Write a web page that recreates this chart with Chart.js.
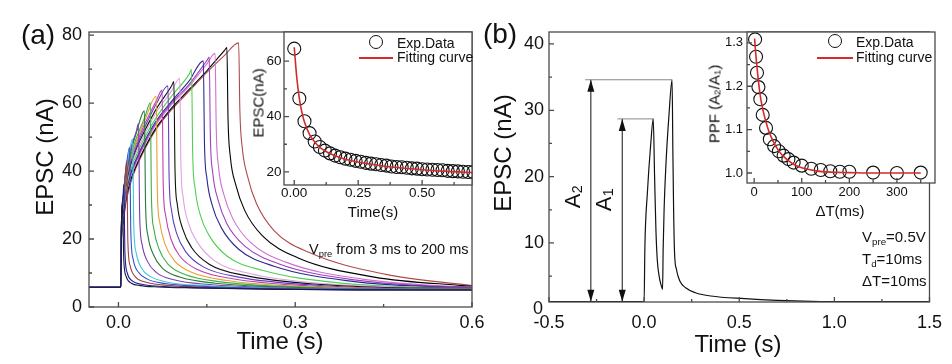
<!DOCTYPE html>
<html>
<head>
<meta charset="utf-8">
<script src="https://cdn.jsdelivr.net/npm/chart.js@4.4.0/dist/chart.umd.min.js"></script>
<style>
  body { margin: 0; background: #fff; }
  #wrap { position: relative; width: 952px; height: 364px; overflow: hidden;
          font-family: "Liberation Sans", Arial, sans-serif; color: #111; }
  #wrap canvas { position: absolute; left: 0; top: 0; }
  .t { position: absolute; white-space: nowrap; line-height: 1; }
  .c { transform: translate(-50%, -50%); }
  .l { transform: translateY(-50%); }
  .r { writing-mode: vertical-rl; transform: translate(-50%, -50%) rotate(180deg); }
  .s { font-size: 0.65em; position: relative; top: 0.3em; }
  .r .s { top: 0; left: -0.3em; }
  .dot { position: absolute; width: 12px; height: 12px; border: 1.2px solid #111; border-radius: 50%;
         transform: translate(-50%, -50%); }
  .red { position: absolute; height: 1.6px; background: #d42a2a; }
</style>
</head>
<body>
<div id="wrap">
  <canvas id="mainA" width="952" height="364"></canvas>
  <canvas id="mainB" width="952" height="364"></canvas>
  <canvas id="insetA" width="952" height="364"></canvas>
  <canvas id="insetB" width="952" height="364"></canvas>

  <div class="t c" style="left:38px;top:35px;font-size:28px">(a)</div>
  <div class="t c" style="left:500px;top:34px;font-size:28px">(b)</div>

  <div class="t r" style="left:45px;top:157px;font-size:24px">EPSC (nA)</div>
  <div class="t c" style="left:280px;top:341px;font-size:24px">Time (s)</div>
  <div class="t r" style="left:503px;top:153px;font-size:24px">EPSC (nA)</div>
  <div class="t c" style="left:738px;top:344px;font-size:24px">Time (s)</div>
  <div class="t l" style="left:533px;top:308px;font-size:18px">0</div>

  <div class="t r" style="left:258px;top:103px;font-size:15px">EPSC(nA)</div>
  <div class="t c" style="left:373px;top:211px;font-size:15px">Time(s)</div>
  <div class="t r" style="left:714px;top:104px;font-size:15px">PPF (A<span class="s">2</span>/A<span class="s">1</span>)</div>
  <div class="t c" style="left:840px;top:210px;font-size:15px">&Delta;T(ms)</div>

  <div class="dot" style="left:376px;top:42px"></div>
  <div class="red" style="left:359px;top:57px;width:34px"></div>
  <div class="t l" style="left:397px;top:43px;font-size:14px">Exp.Data</div>
  <div class="t l" style="left:397px;top:57px;font-size:14px">Fitting curve</div>

  <div class="dot" style="left:835px;top:41px"></div>
  <div class="red" style="left:817px;top:57px;width:36px"></div>
  <div class="t l" style="left:856px;top:42px;font-size:14px">Exp.Data</div>
  <div class="t l" style="left:856px;top:57px;font-size:14px">Fitting curve</div>

  <div class="t l" style="left:309px;top:249px;font-size:14.5px">V<span class="s">pre</span> from 3 ms to 200 ms</div>
  <div class="t l" style="left:862px;top:236px;font-size:15px">V<span class="s">pre</span>=0.5V</div>
  <div class="t l" style="left:862px;top:258px;font-size:15px">T<span class="s">d</span>=10ms</div>
  <div class="t l" style="left:862px;top:280px;font-size:15px">&Delta;T=10ms</div>

  <div class="t r" style="left:573px;top:197px;font-size:22px">A<span class="s">2</span></div>
  <div class="t r" style="left:604px;top:200px;font-size:22px">A<span class="s">1</span></div>
</div>
<script>
const FONT = '"Liberation Sans", Arial, sans-serif';
const AXIS = '#4a4a4a';

// (a) EPSC traces, one per pulse width
const pulseMs   = [3, 5, 10, 15, 20, 30, 40, 50, 60, 70, 80, 90, 100, 120, 140, 150, 160, 180, 200];
const curveColor = ['#1a1a40', '#20209a', '#a0403a', '#3050d0', '#40c8d8', '#7b3fb0', '#2a7a3a',
                    '#3cb04a', '#e8a030', '#c040b0', '#6040c0', '#101010', '#e0a0e0', '#50d050',
                    '#2a2a90', '#a040c0', '#d070d0', '#000000', '#b04a4a'];
const baseA     = 5.8;
const peakTime  = [0.007, 0.009, 0.014, 0.019, 0.024, 0.034, 0.044, 0.054, 0.064, 0.074, 0.084,
                   0.094, 0.104, 0.124, 0.144, 0.154, 0.164, 0.184, 0.204];
const peakEPSC  = [30, 36, 43, 47, 49.5, 54, 57.7, 60.1, 62, 63.8, 65.1, 66.3, 67.3, 69.9, 72.4,
                   73.5, 74.6, 76.3, 77.7];
// rise values at these times (only the ones before each peak)
const riseTime  = [0.005, 0.008, 0.012, 0.02, 0.03, 0.045, 0.065, 0.09, 0.12, 0.15, 0.18];
const riseEPSC  = [
  [24],
  [24, 33],
  [23.5, 32.5, 40],
  [23.5, 32, 39.5],
  [23, 31.5, 39, 47],
  [23, 31, 38, 46, 51.5],
  [22.5, 30.5, 37.5, 45, 51],
  [22.5, 30, 37, 44, 49.5, 56],
  [22, 29.5, 36.5, 43.5, 48.5, 55],
  [22, 29, 36, 43, 48, 54, 61],
  [21.5, 28.5, 35.5, 42, 47, 53, 60],
  [21.5, 28, 35, 41.5, 46.5, 52, 58.5, 65],
  [21, 27.5, 34.5, 41, 45.5, 51, 57.5, 63.5],
  [21, 27, 33.5, 40, 44.5, 50, 56, 62, 68.5],
  [20.5, 26.5, 33, 39, 43.5, 49, 55, 60.5, 66.5],
  [20.5, 26, 32.5, 38.5, 43, 48.5, 54.5, 60, 65.5, 72.5],
  [20, 25.5, 32, 38, 42.5, 48, 54, 59.5, 65, 71.5],
  [20, 25, 31, 37, 41.5, 47, 53, 58.5, 64, 69.5, 75.5],
  [19.5, 24.5, 30, 36, 41, 46.5, 52.5, 58, 63.5, 69, 74]
];
// decay values at these delays after each peak
const decayAfter = [0.002, 0.006, 0.015, 0.03, 0.06, 0.12, 0.25, 0.4];
const decayEPSC  = [
  [14, 9, 7.0, 6.3, 5.9, 5.6, 5.2, 5.0],
  [16, 10, 7.6, 6.7, 6.1, 5.7, 5.25, 5.05],
  [19, 12, 8.8, 7.4, 6.5, 5.9, 5.3, 5.1],
  [22, 14, 10.2, 8.2, 6.9, 6.1, 5.4, 5.15],
  [24, 16, 11.5, 9.0, 7.3, 6.3, 5.5, 5.2],
  [27, 18.5, 13.5, 10.2, 8.0, 6.6, 5.6, 5.25],
  [30, 21, 15.5, 11.5, 8.8, 7.0, 5.8, 5.3],
  [32, 23, 17, 12.6, 9.5, 7.4, 5.9, 5.35],
  [34, 25, 18.5, 13.8, 10.2, 7.8, 6.0, 5.4],
  [36, 27, 20, 15, 11, 8.3, 6.2, 5.45],
  [38, 28.5, 21.5, 16.3, 11.8, 8.8, 6.4, 5.5],
  [40, 30, 23, 17.5, 12.6, 9.3, 6.6, 5.6],
  [42, 32, 24.5, 19, 13.5, 9.8, 6.8, 5.7],
  [45, 35, 27, 21, 15, 10.8, 7.1, 5.8],
  [48, 38, 30, 23.5, 17, 12, 7.6, 5.9],
  [50, 39.5, 31.5, 24.5, 18, 12.6, 7.9, 6.0],
  [52, 41, 33, 26, 19, 13.2, 8.2, 6.1],
  [55, 44, 36, 28.5, 21, 14.5, 8.8, 6.3],
  [58, 47, 38.5, 30.5, 22.5, 16, 9.6, 6.4]
];
const endEPSC = [5.0, 5.0, 5.05, 5.1, 5.15, 5.2, 5.25, 5.3, 5.35, 5.4, 5.5, 5.55, 5.6, 5.7, 5.8,
                 5.9, 6.0, 6.1, 6.3];   // value at 0.6 s

// (a) inset: peak decay
const insetTime = [0, 0.02, 0.04, 0.06, 0.08, 0.10, 0.12, 0.14, 0.16, 0.18, 0.20, 0.22, 0.24, 0.26,
                   0.28, 0.30, 0.32, 0.34, 0.36, 0.38, 0.40, 0.42, 0.44, 0.46, 0.48, 0.50, 0.52,
                   0.54, 0.56, 0.58, 0.60, 0.62, 0.64, 0.66, 0.68, 0.70];
const insetEPSC = [64.5, 46.5, 38.3, 34.0, 31.0, 29.0, 27.7, 26.7, 25.9, 25.3, 24.8, 24.4, 24.0,
                   23.7, 23.3, 23.0, 22.8, 22.5, 22.3, 22.0, 21.8, 21.7, 21.5, 21.3, 21.2, 21.0,
                   20.9, 20.8, 20.7, 20.6, 20.4, 20.3, 20.2, 20.1, 20.0, 20.0];
const fitTimeA  = [0, 0.01, 0.02, 0.03, 0.04, 0.06, 0.08, 0.1, 0.15, 0.2, 0.3, 0.4, 0.5, 0.6, 0.7];
const fitEPSCA  = [65, 54, 46.5, 41.5, 38, 33.5, 30.8, 28.9, 26.2, 24.6, 22.8, 21.6, 20.8, 20.2, 19.8];

// (b) paired-pulse trace
const traceT    = [-0.5, 0, 0.004, 0.017, 0.035, 0.048, 0.055, 0.062, 0.069, 0.08, 0.09, 0.097,
                   0.1, 0.105, 0.115, 0.13, 0.147, 0.151, 0.155, 0.16, 0.17, 0.187, 0.22, 0.27,
                   0.35, 0.53, 0.7, 0.88, 1.1, 1.5];
const traceEPSC = [1.15, 1.15, 9.4, 17.5, 25, 28.7, 20, 12, 7.5, 4.8, 3.6, 3.0, 9, 15, 22, 29,
                   34.6, 24, 15, 8.5, 6, 4.3, 3.2, 2.5, 2.0, 1.6, 1.35, 1.2, 1.15, 1.15];
const markX     = [-0.28, -0.115];     // A2, A1 arrows
const markTop   = [34.6, 28.7];
const levelTo   = [0.147, 0.048];
const levelFrom = [-0.31, -0.14];

// (b) inset: PPF
const ppfDT  = [2, 4, 6, 9, 13, 18, 25, 33, 42, 52, 62, 72, 83, 100, 120, 140, 160, 180, 200, 250, 300, 350];
const ppf    = [1.308, 1.268, 1.231, 1.198, 1.17, 1.134, 1.104, 1.078, 1.062, 1.05, 1.04, 1.032,
                1.024, 1.017, 1.01, 1.007, 1.004, 1.003, 1.003, 1.001, 1.0, 1.001];
const fitDT  = [1, 3, 5, 8, 12, 16, 20, 25, 30, 40, 50, 60, 80, 100, 130, 160, 200, 260, 350];
const fitPPF = [1.31, 1.28, 1.255, 1.222, 1.185, 1.158, 1.138, 1.117, 1.099, 1.073, 1.054, 1.04,
                1.022, 1.012, 1.005, 1.002, 1.001, 1.0, 1.0];

const xy = (xs, ys) => xs.map((x, i) => ({x, y: ys[i]}));

function axis(a, dir) {
  return {
    type: 'linear', min: a.min, max: a.max,
    grid: { display: false, drawTicks: false },
    border: { display: false },
    ticks: {
      autoSkip: false, maxRotation: 0, padding: a.pad, color: '#111',
      font: { family: FONT, size: a.size },
      callback: (v, i, ticks) => ticks[i].major ? a.fmt(v) : ''
    },
    afterBuildTicks: s => {
      s.ticks = a.major.map(v => ({value: v, major: true}))
        .concat(a.minor.map(v => ({value: v, major: false})))
        .sort((p, q) => p.value - q.value);
    },
    afterFit: s => { if (dir === 'x') s.height = a.box; else s.width = a.box; }
  };
}

function framePlugin(fill) {
  return {
    id: 'frame',
    beforeDatasetsDraw(chart) {
      if (!fill) return;
      const a = chart.chartArea;
      chart.ctx.fillStyle = '#fff';
      chart.ctx.fillRect(a.left, a.top, a.right - a.left, a.bottom - a.top);
    },
    afterDraw(chart) {
      const {ctx, chartArea: a, scales: {x, y}} = chart;
      ctx.save();
      ctx.strokeStyle = AXIS;
      ctx.lineWidth = 1.3;
      ctx.strokeRect(a.left, a.top, a.right - a.left, a.bottom - a.top);
      ctx.beginPath();
      x.ticks.forEach(t => {
        const p = x.getPixelForValue(t.value);
        ctx.moveTo(p, a.bottom); ctx.lineTo(p, a.bottom - (t.major ? 5 : 3));
      });
      y.ticks.forEach(t => {
        const p = y.getPixelForValue(t.value);
        ctx.moveTo(a.left, p); ctx.lineTo(a.left + (t.major ? 5 : 3), p);
      });
      ctx.stroke();
      ctx.restore();
    }
  };
}

function panel(id, o, datasets, extra) {
  return new Chart(document.getElementById(id), {
    type: 'line',
    data: { datasets },
    options: {
      responsive: false, animation: false, events: [],
      layout: { padding: o.pad },
      plugins: { legend: { display: false }, tooltip: { enabled: false } },
      elements: {
        point: { radius: 0 },
        line: { borderWidth: 1.1, cubicInterpolationMode: 'monotone' }
      },
      scales: { x: axis(o.x, 'x'), y: axis(o.y, 'y') }
    },
    plugins: [framePlugin(o.fill)].concat(extra || [])
  });
}

// ---- panel (a) ----
const curvesA = pulseMs.map((ms, i) => {
  const pts = [{x: -0.05, y: baseA}, {x: 0.004, y: baseA}];
  riseEPSC[i].forEach((y, j) => pts.push({x: riseTime[j], y}));
  pts.push({x: peakTime[i], y: peakEPSC[i]});
  decayEPSC[i].forEach((y, j) => {
    const t = peakTime[i] + decayAfter[j];
    if (t < 0.6) pts.push({x: t, y});
  });
  pts.push({x: 0.6, y: endEPSC[i]});
  return { label: ms + ' ms', data: pts, borderColor: curveColor[i] };
});

panel('mainA', {
  pad: {left: 0, top: 32, right: 480, bottom: 0},
  x: {min: -0.05, max: 0.6, major: [0, 0.3, 0.6], minor: [0.15, 0.45], fmt: v => v.toFixed(1),
      size: 18, pad: 5, box: 57},
  y: {min: 0, max: 80.9, major: [0, 20, 40, 60, 80], minor: [10, 30, 50, 70], fmt: v => v,
      size: 18, pad: 7, box: 89}
}, curvesA);

// ---- panel (b) ----
const arrowHeads = {
  id: 'arrowHeads',
  afterDatasetsDraw(chart) {
    const {ctx, scales: {x, y}} = chart;
    ctx.save();
    ctx.fillStyle = '#111';
    markX.forEach((mx, i) => {
      const px = x.getPixelForValue(mx);
      const top = y.getPixelForValue(markTop[i]);
      const bot = y.getPixelForValue(traceEPSC[0]);
      ctx.beginPath();
      ctx.moveTo(px, top); ctx.lineTo(px - 3.5, top + 12); ctx.lineTo(px + 3.5, top + 12);
      ctx.closePath(); ctx.fill();
      ctx.beginPath();
      ctx.moveTo(px, bot); ctx.lineTo(px - 3.5, bot - 12); ctx.lineTo(px + 3.5, bot - 12);
      ctx.closePath(); ctx.fill();
    });
    ctx.restore();
  }
};

const marksB = [];
markX.forEach((mx, i) => {
  marksB.push({ data: [{x: levelFrom[i], y: markTop[i]}, {x: levelTo[i], y: markTop[i]}],
                borderColor: '#888', borderWidth: 1, cubicInterpolationMode: 'default', tension: 0 });
  marksB.push({ data: [{x: mx, y: traceEPSC[0]}, {x: mx, y: markTop[i]}],
                borderColor: '#111', borderWidth: 1, cubicInterpolationMode: 'default', tension: 0 });
});

panel('mainB', {
  pad: {left: 480, top: 32, right: 17, bottom: 0},
  x: {min: -0.5, max: 1.5, major: [-0.5, 0, 0.5, 1, 1.5], minor: [-0.25, 0.25, 0.75, 1.25],
      fmt: v => v.toFixed(1), size: 18, pad: 10, box: 62},
  y: {min: 1.1, max: 41.8, major: [10, 20, 30, 40], minor: [5, 15, 25, 35], fmt: v => v,
      size: 18, pad: 5, box: 69}
}, [{ label: 'EPSC', data: xy(traceT, traceEPSC), borderColor: '#111', borderWidth: 1.2 }].concat(marksB),
  [arrowHeads]);

// ---- insets ----
const circle = { showLine: false, pointRadius: 6.5, pointBorderWidth: 1.1,
                 pointBorderColor: '#111', pointBackgroundColor: 'rgba(0,0,0,0)' };

panel('insetA', {
  fill: true,
  pad: {left: 240, top: 32, right: 480, bottom: 139},
  x: {min: -0.04, max: 0.695, major: [0, 0.25, 0.5], minor: [0.125, 0.375, 0.625],
      fmt: v => v.toFixed(2), size: 13.5, pad: 0, box: 40},
  y: {min: 15.3, max: 70.5, major: [20, 40, 60], minor: [30, 50], fmt: v => v,
      size: 13.5, pad: 2.5, box: 44}
}, [
  { label: 'Fitting curve', data: xy(fitTimeA, fitEPSCA), borderColor: '#d42a2a', borderWidth: 1.6 },
  Object.assign({ label: 'Exp.Data', data: xy(insetTime, insetEPSC) }, circle)
]);

panel('insetB', {
  fill: true,
  pad: {left: 700, top: 32, right: 17, bottom: 141},
  x: {min: -15, max: 380, major: [0, 100, 200, 300], minor: [50, 150, 250, 350],
      fmt: v => v, size: 13, pad: 2, box: 40},
  y: {min: 0.977, max: 1.325, major: [1.0, 1.1, 1.2, 1.3], minor: [1.05, 1.15, 1.25],
      fmt: v => v.toFixed(1), size: 13, pad: 4, box: 47}
}, [
  { label: 'Fitting curve', data: xy(fitDT, fitPPF), borderColor: '#d42a2a', borderWidth: 1.6 },
  Object.assign({ label: 'Exp.Data', data: xy(ppfDT, ppf) }, circle)
]);
</script>
</body>
</html>
